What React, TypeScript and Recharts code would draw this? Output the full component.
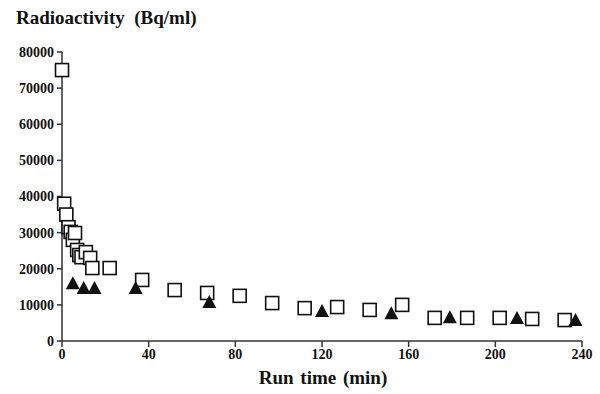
import React from "react";
import { ScatterChart, Scatter, XAxis, YAxis } from "recharts";

// open squares
const squareTimes = [0, 1, 2, 3, 4, 5, 6, 7, 8, 9, 11, 13, 14, 22, 37, 52, 67, 82, 97, 112, 127, 142, 157, 172, 187, 202, 217, 232];
const squareValues = [75000, 38000, 35000, 31500, 30200, 28000, 29900, 25200, 23800, 23200, 24600, 23000, 20200, 20200, 16900, 14100, 13300, 12500, 10500, 9100, 9400, 8600, 10000, 6400, 6400, 6400, 6100, 5800];

// filled triangles
const triangleTimes = [5, 10, 15, 34, 68, 120, 152, 179, 210, 237];
const triangleValues = [16000, 14700, 14700, 14700, 10800, 8300, 7700, 6600, 6400, 5800];

const xTicks = [0, 40, 80, 120, 160, 200, 240];
const yTicks = [0, 10000, 20000, 30000, 40000, 50000, 60000, 70000, 80000];

const squareData = squareTimes.map((t, i) => ({ t, v: squareValues[i] }));
const triangleData = triangleTimes.map((t, i) => ({ t, v: triangleValues[i] }));

const FONT = "'Liberation Serif', 'Times New Roman', serif";

const SquareMark = (props: any) => {
    const { cx, cy } = props;
    return (
        <rect x={cx - 6.5} y={cy - 6.5} width={13} height={13} fill="#fff" stroke="#111" strokeWidth={1.6} />
    );
};

const TriangleMark = (props: any) => {
    const { cx, cy } = props;
    return (
        <polygon points={`${cx},${cy - 7} ${cx - 7},${cy + 6} ${cx + 7},${cy + 6}`} fill="#111" />
    );
};

const tickStyle = { fontFamily: FONT, fontSize: 14, fontWeight: 700, fill: "#111" };

export default function App() {
    return (
        <div style={{ position: "absolute", left: 0, top: 0, width: 600, height: 394, background: "#fff" }}>
            <div
                style={{
                    position: "absolute",
                    left: 16,
                    top: 7,
                    fontFamily: FONT,
                    fontWeight: 700,
                    fontSize: 19,
                    whiteSpace: "pre",
                    color: "#111",
                }}
            >
                {"Radioactivity  (Bq/ml)"}
            </div>
            <ScatterChart
                width={600}
                height={394}
                margin={{ top: 52, right: 18, bottom: 23, left: 0 }}
                style={{ overflow: "visible" }}
            >
                <XAxis
                    type="number"
                    dataKey="t"
                    domain={[0, 240]}
                    ticks={xTicks}
                    interval={0}
                    height={30}
                    tick={tickStyle}
                    tickSize={6}
                    stroke="#333"
                    strokeWidth={1.5}
                />
                <YAxis
                    type="number"
                    dataKey="v"
                    domain={[0, 80000]}
                    ticks={yTicks}
                    interval={0}
                    width={62}
                    tick={tickStyle}
                    tickSize={5}
                    tickMargin={3}
                    stroke="#333"
                    strokeWidth={1.5}
                />
                <Scatter data={squareData} shape={<SquareMark />} isAnimationActive={false} />
                <Scatter data={triangleData} shape={<TriangleMark />} isAnimationActive={false} />
            </ScatterChart>
            <div
                style={{
                    position: "absolute",
                    left: 0,
                    width: 646,
                    top: 367,
                    textAlign: "center",
                    fontFamily: FONT,
                    fontWeight: 700,
                    fontSize: 19,
                    wordSpacing: 2,
                    whiteSpace: "pre",
                    color: "#111",
                }}
            >
                {"Run time (min)"}
            </div>
        </div>
    );
}
